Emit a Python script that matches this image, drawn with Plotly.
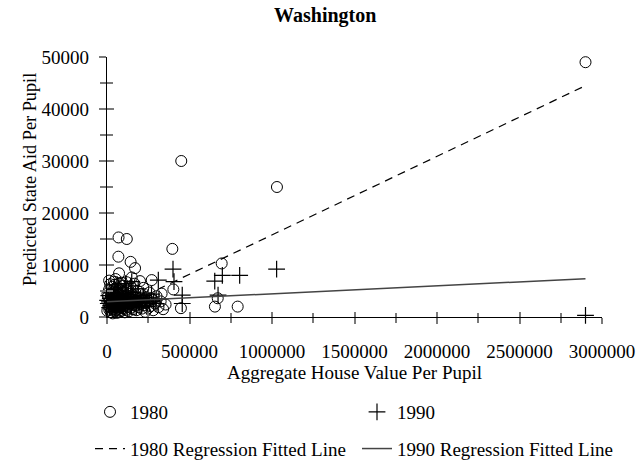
import plotly.graph_objects as go

# ---- 1980 districts: aggregate house value per pupil vs predicted state aid per pupil
x1980 = [
    2900000, 1030000, 450000, 396000, 695000, 671000, 654000, 792000, 448000, 402000,
    331000, 271000, 70000, 120000, 69000, 143000, 170000, 73000,
    2000, 3000, 6000, 9000, 12000, 14000, 17000, 19000, 21000, 23000,
    25000, 27000, 29000, 31000, 33000, 35000, 37000, 39000, 41000, 43000,
    45000, 47000, 49000, 51000, 53000, 55000, 57000, 59000, 61000, 63000,
    65000, 67000, 69000, 71000, 73000, 75000, 77000, 79000, 81000, 83000,
    85000, 87000, 89000, 91000, 93000, 95000, 97000, 99000,
    102000, 105000, 108000, 111000, 114000, 117000, 120000, 123000, 126000, 129000,
    132000, 135000, 138000, 141000, 144000, 147000, 150000,
    154000, 158000, 162000, 166000, 170000, 174000, 178000, 182000, 186000, 190000,
    195000, 200000, 205000, 210000, 215000, 220000,
    226000, 232000, 238000, 244000, 250000,
    257000, 264000, 272000, 280000, 290000, 300000, 312000, 325000, 340000, 355000,
    18000, 28000, 46000, 58000, 76000, 92000, 110000, 130000, 160000, 185000, 228000,
    64000, 42000, 88000, 52000, 13000, 118000, 150000, 200000,
]
y1980 = [
    49000, 25000, 30000, 13100, 10300, 3600, 2000, 2000, 1700, 5300,
    4500, 7100, 15300, 15000, 11600, 10600, 9400, 8400,
    1200, 4500, 3900, 2100, 5200, 1400, 3100, 6300, 2600, 900,
    4400, 1800, 3300, 5800, 2300, 700, 3700, 1500, 4900, 2800,
    1100, 6200, 3500, 2000, 4100, 1300, 2900, 5500, 800, 3800,
    2400, 4600, 1600, 3200, 6500, 2200, 1000, 4300, 2700, 1900,
    5100, 3000, 1200, 3600, 2500, 4800, 1700, 6000,
    2100, 3400, 900, 4000, 2600, 1400, 5300, 3100, 2000, 4500,
    1100, 3700, 2400, 5900, 1800, 3300, 2700,
    4200, 1500, 3000, 6400, 2200, 3900, 1300, 2800, 5000, 1900,
    3500, 2500, 4400, 1600, 3200, 5600,
    2300, 1000, 3800, 2900, 1700,
    4700, 2100, 3400, 1300, 2600, 4000, 1900, 3000, 1500, 2400,
    2000, 2800, 3000, 1800, 3500, 2300, 2900, 3300, 2400, 3100, 2700,
    5000, 6800, 6600, 7300, 7000, 6700, 7600, 6900,
]

# ---- 1990 districts
x1990 = [
    2900000, 1028000, 400000, 406000, 456000, 456000, 699000, 653000, 804000, 673000,
    150000, 311000, 144000,
    4000, 8000, 11000, 15000, 20000, 24000, 27000, 31000, 34000, 38000,
    41000, 44000, 48000, 51000, 54000, 57000, 60000, 63000, 66000, 70000,
    73000, 76000, 80000, 83000, 86000, 90000, 94000, 97000, 101000, 105000,
    109000, 113000, 117000, 121000, 125000, 130000, 135000, 140000, 145000, 151000,
    157000, 163000, 169000, 175000, 182000, 189000, 196000, 204000, 212000, 220000,
    229000, 238000, 248000, 258000, 270000, 283000, 297000, 315000, 16000, 36000,
    56000, 78000, 99000, 123000, 148000, 178000, 208000, 242000, 62000, 112000,
]
y1990 = [
    300, 9200, 9200, 6800, 4200, 2600, 8000, 6900, 8000, 4200,
    6800, 7100, 6000,
    3200, 2600, 4100, 2900, 3600, 2200, 4800, 3000, 2500, 3900,
    2800, 5200, 3300, 2100, 4400, 3100, 2700, 3800, 2400, 5600,
    3400, 2900, 4200, 2300, 3700, 3000, 2600, 4600, 3200, 2800,
    3900, 2400, 5000, 3500, 2700, 4300, 3100, 2500, 3800, 2900,
    4700, 3300, 2600, 4000, 3000, 5400, 2800, 3600, 2500, 4100,
    3200, 2900, 3700, 2700, 4400, 3100, 2600, 3500, 1800, 1500,
    1900, 1600, 2000, 1700, 2100, 1900, 2200, 2000, 6200, 6400,
]

# ---- fitted regression lines: intercept and slope
fit1980 = (670.0, 0.01511)
fit1990 = (2930.0, 0.00153)
fit_range = [0, 2900000]

x_ticks = [0, 500000, 1000000, 1500000, 2000000, 2500000, 3000000]
y_ticks = [0, 10000, 20000, 30000, 40000, 50000]
X_RANGE = [0, 3000000]
Y_RANGE = [0, 50000]

FONT = "Liberation Serif, Times New Roman, serif"
TICK_COLOR = "#7a7a7a"


def fitted(coef, xs):
    a, b = coef
    return [a + b * v for v in xs]


fig = go.Figure()

fig.add_trace(go.Scatter(
    x=x1980, y=y1980, mode="markers", name="1980",
    marker=dict(symbol="circle-open", size=11, color="black", line=dict(width=1, color="black")),
    cliponaxis=False, legend="legend", legendgroup="a",
))
fig.add_trace(go.Scatter(
    x=x1990, y=y1990, mode="markers", name="1990",
    marker=dict(symbol="cross-thin", size=12, color="black", line=dict(width=1.2, color="black")),
    cliponaxis=False, legend="legend2", legendgroup="c",
))
# fitted lines: one on the companion y axis, one on the companion x axis (same ranges);
# the companion axes carry the inward half of the tick marks
fig.add_trace(go.Scatter(
    x=fit_range, y=fitted(fit1980, fit_range), mode="lines",
    name="1980 Regression Fitted Line", xaxis="x", yaxis="y2",
    line=dict(color="black", width=1.2, dash="8px,6px"),
    legend="legend", legendgroup="b",
))
fig.add_trace(go.Scatter(
    x=fit_range, y=fitted(fit1990, fit_range), mode="lines",
    name="1990 Regression Fitted Line", xaxis="x2", yaxis="y",
    line=dict(color="#444444", width=1.5),
    legend="legend2", legendgroup="d",
))

axis_font = dict(family=FONT, size=19, color="black")
inner_tick = dict(ticks="inside", tickwidth=1.5, tickcolor=TICK_COLOR,
                  showticklabels=False, showline=False, showgrid=False, zeroline=False)

fig.update_layout(
    width=644, height=461,
    margin=dict(l=107, r=42, t=57, b=144, autoexpand=False),
    paper_bgcolor="white", plot_bgcolor="white",
    font=axis_font,
    title=dict(text="Washington", x=0.505, xanchor="center", xref="container",
               y=1 - 8 / 461, yanchor="top", yref="container",
               font=dict(family=FONT, size=20, color="black", weight="bold")),
    xaxis=dict(
        range=X_RANGE, tickvals=x_ticks, tickformat="d",
        showline=True, linecolor="black", linewidth=1.3,
        ticks="outside", ticklen=6, tickwidth=1.5, tickcolor=TICK_COLOR,
        minor=dict(dtick=250000, tick0=0, ticks="outside", ticklen=5, tickwidth=1.5, tickcolor=TICK_COLOR),
        showgrid=False, zeroline=False, ticklabelstandoff=11,
        tickfont=axis_font,
        title=dict(text="Aggregate House Value Per Pupil", font=axis_font, standoff=0),
    ),
    yaxis=dict(
        range=Y_RANGE, tickvals=y_ticks, tickformat="d",
        showline=True, linecolor="black", linewidth=1.3,
        ticks="outside", ticklen=7, tickwidth=1.5, tickcolor=TICK_COLOR,
        minor=dict(dtick=5000, tick0=0, ticks="outside", ticklen=6, tickwidth=1.5, tickcolor=TICK_COLOR),
        showgrid=False, zeroline=False, ticklabelstandoff=6,
        tickfont=axis_font,
    ),
    xaxis2=dict(
        overlaying="x", anchor="y", side="bottom", range=X_RANGE, tickvals=x_ticks, ticklen=5,
        minor=dict(dtick=250000, tick0=0, ticks="inside", ticklen=4, tickwidth=1.5, tickcolor=TICK_COLOR),
        **inner_tick,
    ),
    yaxis2=dict(
        overlaying="y", anchor="x", side="left", range=Y_RANGE, tickvals=y_ticks, ticklen=7,
        minor=dict(dtick=5000, tick0=0, ticks="inside", ticklen=6, tickwidth=1.5, tickcolor=TICK_COLOR),
        **inner_tick,
    ),
    legend=dict(
        xref="container", yref="container", x=90 / 644, y=1 - 393 / 461,
        xanchor="left", yanchor="top", orientation="v",
        font=axis_font, tracegroupgap=9, bgcolor="rgba(0,0,0,0)",
        itemwidth=30,
    ),
    legend2=dict(
        xref="container", yref="container", x=357 / 644, y=1 - 393 / 461,
        xanchor="left", yanchor="top", orientation="v",
        font=axis_font, tracegroupgap=9, bgcolor="rgba(0,0,0,0)",
        itemwidth=30,
    ),
    showlegend=True,
)

# vertical title of the value axis
fig.add_annotation(
    text="Predicted State Aid Per Pupil", textangle=-90,
    xref="paper", yref="paper", x=0, y=0.527, xanchor="center", yanchor="middle",
    xshift=-77, showarrow=False, font=dict(family=FONT, size=18.3, color="black"),
)

fig.write_html("out.html")
